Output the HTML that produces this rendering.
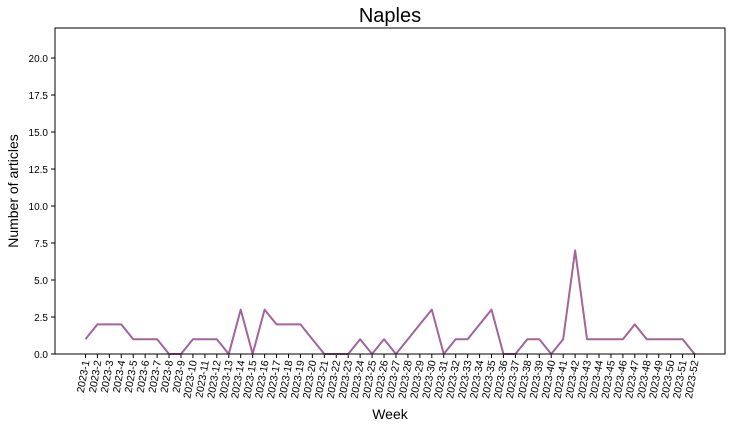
<!DOCTYPE html>
<html><head><meta charset="utf-8"><style>
body{margin:0;background:#fff;width:731px;height:429px;overflow:hidden}
text{font-family:"Liberation Sans",sans-serif}
</style></head><body>
<svg id="chart" width="731" height="429">
<text x="390" y="22" text-anchor="middle" font-size="20">Naples</text>
<text x="390" y="419" text-anchor="middle" font-size="14">Week</text>
<text transform="translate(18,191) rotate(-90)" text-anchor="middle" font-size="14">Number of articles</text>
<g id="axes"></g>
</svg>
<script>
const categories=[];for(let i=1;i<=52;i++)categories.push('2023-'+i);
const values=[1,2,2,2,1,1,1,0,0,1,1,1,0,3,0,3,2,2,2,1,0,0,0,1,0,1,0,1,2,3,0,1,1,2,3,0,0,1,1,0,1,7,1,1,1,1,2,1,1,1,1,0];
const yTicks=[0,2.5,5,7.5,10,12.5,15,17.5,20];
const L=55,R=725,T=28,B=354,yMax=22.03;
const x=i=>L+(i+2.55)/56.1*(R-L);
const y=v=>B-v/yMax*(B-T);
const g=document.getElementById('axes');const NS='http://www.w3.org/2000/svg';
function mk(t,a){const e=document.createElementNS(NS,t);for(const k in a)e.setAttribute(k,a[k]);g.appendChild(e);return e;}
yTicks.forEach(v=>{
 const t=mk('line',{x1:L-4,x2:L,y1:y(v),y2:y(v),stroke:'#000'});
 
 
 const l=mk('text',{x:L-7,y:y(v)+4,'text-anchor':'end','font-size':10});l.textContent=v.toFixed(1);
 
 
});
categories.forEach((c,i)=>{
 const t=mk('line',{x1:x(i),x2:x(i),y1:B,y2:B+4,stroke:'#000'});
 
 
 const l=mk('text',{transform:`translate(${x(i)+4},${B+7}) rotate(-80)`,'text-anchor':'end','font-size':10.5});l.textContent=c;
 
 
});
const p=mk('polyline',{points:values.map((v,i)=>x(i)+','+y(v)).join(' '),fill:'none',stroke:'#a2649a','stroke-width':2,'stroke-linejoin':'round'});


const f=mk('rect',{x:L,y:T,width:R-L,height:B-T,fill:'none',stroke:'#000','stroke-width':1});


</script>
</body></html>
